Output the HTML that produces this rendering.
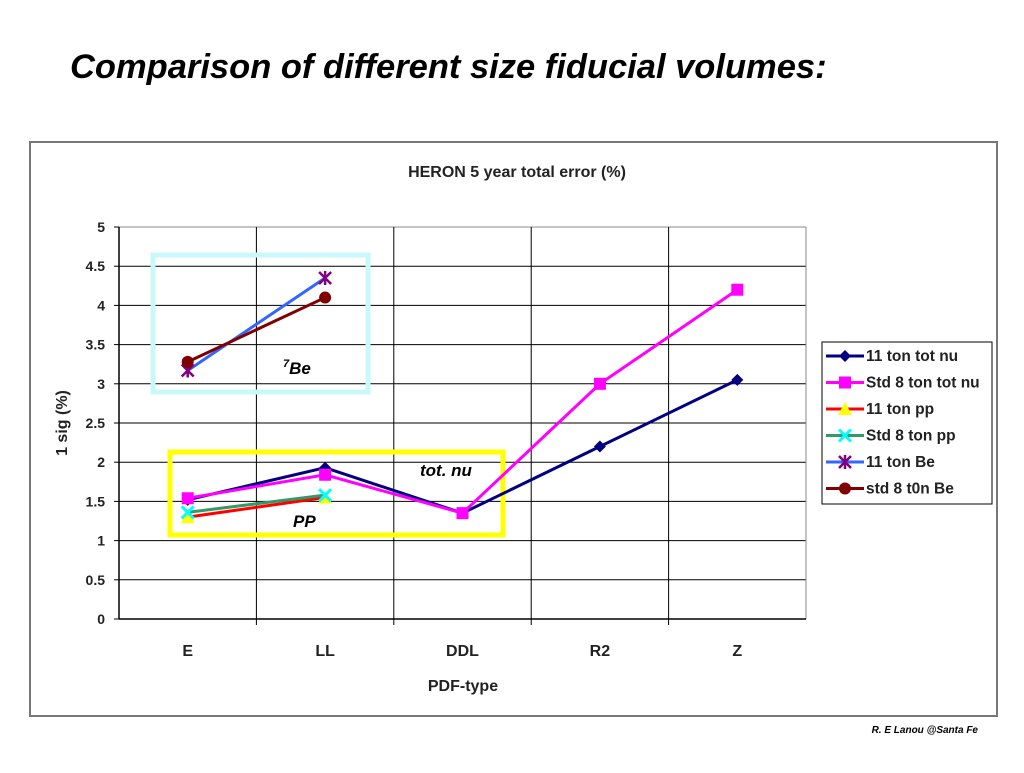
<!DOCTYPE html>
<html><head><meta charset="utf-8"><style>
body{margin:0;background:#fff;width:1024px;height:768px;overflow:hidden;font-family:"Liberation Sans",Arial,sans-serif}
</style></head><body>
<svg width="1024" height="768" xmlns="http://www.w3.org/2000/svg">
<text x="70" y="78" font-size="34.5" font-weight="bold" font-style="italic" font-family="Liberation Sans">Comparison of different size fiducial volumes:</text>
<rect x="30" y="142" width="967" height="574" fill="#fff" stroke="#777" stroke-width="2"/>
<text x="517" y="177" text-anchor="middle" font-size="16" font-weight="bold" fill="#222">HERON 5 year  total error (%)</text>
<g id="grid"></g>
<g id="axes"></g>
<rect x="153" y="255" width="215" height="137" fill="none" stroke="#c8f8f8" stroke-width="5"/>
<rect x="170" y="452" width="333" height="83" fill="none" stroke="#ffff00" stroke-width="5"/>
<g id="series"></g>
<text x="283" y="374" font-size="17" font-weight="bold" font-style="italic"><tspan font-size="11" dy="-7">7</tspan><tspan dy="7">Be</tspan></text>
<text x="420" y="476" font-size="17" font-weight="bold" font-style="italic">tot. nu</text>
<text x="293" y="527" font-size="17" font-weight="bold" font-style="italic">PP</text>
<text x="67" y="423" font-size="16" font-weight="bold" fill="#222" text-anchor="middle" transform="rotate(-90 67 423)">1 sig (%)</text>
<text x="463" y="691" font-size="16" font-weight="bold" fill="#222" text-anchor="middle">PDF-type</text>
<g>
<rect x="822" y="342" width="170" height="162" fill="#fff" stroke="#000" stroke-width="1"/>
<g id="legend"></g>
</g>
<text x="978" y="733" font-size="10" font-weight="bold" font-style="italic" text-anchor="end">R. E Lanou @Santa Fe</text>
</svg>
<script>
const categories=["E","LL","DDL","R2","Z"];
const yTicks=[0,0.5,1,1.5,2,2.5,3,3.5,4,4.5,5];
const seriesNames=["11 ton tot nu","Std 8 ton tot nu","11 ton pp","Std 8 ton pp","11 ton Be","std 8 t0n Be"];
const tot11=[1.52,1.93,1.35,2.2,3.05];
const totStd=[1.54,1.84,1.35,3.0,4.2];
const pp11=[1.3,1.55];
const ppStd=[1.36,1.58];
const be11=[3.17,4.35];
const beStd=[3.28,4.1];
const NS="http://www.w3.org/2000/svg";
const L=119,R=806,T=227,B=619,yMax=5;
const step=(R-L)/categories.length;
const xS=i=>L+step*(i+0.5);
const yS=v=>B-(v/yMax)*(B-T);
function mk(tag,attrs,parent){const e=document.createElementNS(NS,tag);for(const k in attrs)e.setAttribute(k,attrs[k]);parent.appendChild(e);return e;}
const grid=document.getElementById('grid'),axes=document.getElementById('axes'),ser=document.getElementById('series'),leg=document.getElementById('legend');
yTicks.forEach(v=>{
 const l=mk('line',{x1:L,x2:R,y1:yS(v),y2:yS(v),stroke:v==yMax?'#888':'#000','stroke-width':1},grid);
 
 
 mk('line',{x1:L-5,x2:L,y1:yS(v),y2:yS(v),stroke:'#000'},axes);
 const t=mk('text',{x:L-14,y:yS(v)+5,'text-anchor':'end','font-size':14,'font-weight':'bold',fill:'#222'},axes);t.textContent=v;
 
 
});
for(let i=1;i<categories.length;i++){
 const l=mk('line',{x1:L+step*i,x2:L+step*i,y1:T,y2:B+6,stroke:'#000'},grid);
 
 
}
mk('line',{x1:R,x2:R,y1:T,y2:B,stroke:'#888'},axes);
mk('line',{x1:L,x2:L,y1:T,y2:B,stroke:'#000','stroke-width':1.5},axes);
mk('line',{x1:L,x2:R,y1:B,y2:B,stroke:'#000','stroke-width':1.5},axes);
categories.forEach((c,i)=>{
 const t=mk('text',{x:xS(i),y:656,'text-anchor':'middle','font-size':16,'font-weight':'bold',fill:'#222'},axes);t.textContent=c;
 
 
});
function marker(type,x,y,color,g){
 if(type=='diamond')mk('polygon',{points:`${x},${y-6} ${x+6},${y} ${x},${y+6} ${x-6},${y}`,fill:color},g);
 else if(type=='square')mk('rect',{x:x-6,y:y-6,width:12,height:12,fill:color},g);
 else if(type=='triangle')mk('polygon',{points:`${x},${y-7} ${x+7},${y+6} ${x-7},${y+6}`,fill:color},g);
 else if(type=='x'){mk('path',{d:`M${x-6},${y-6}L${x+6},${y+6}M${x+6},${y-6}L${x-6},${y+6}`,stroke:color,'stroke-width':3},g);}
 else if(type=='star'){mk('path',{d:`M${x-6},${y-6}L${x+6},${y+6}M${x+6},${y-6}L${x-6},${y+6}M${x},${y-7}L${x},${y+7}`,stroke:color,'stroke-width':2.5},g);}
 else if(type=='circle')mk('circle',{cx:x,cy:y,r:6,fill:color},g);
}
const defs=[
 {d:tot11,line:'#000080',m:'diamond',mc:'#000080'},
 {d:totStd,line:'#ff00ff',m:'square',mc:'#ff00ff'},
 {d:pp11,line:'#ff0000',m:'triangle',mc:'#ffff00'},
 {d:ppStd,line:'#339966',m:'x',mc:'#00ffff'},
 {d:be11,line:'#3366ff',m:'star',mc:'#800080'},
 {d:beStd,line:'#800000',m:'circle',mc:'#800000'}
];
const slugs=['series-11ton-totnu','series-std8-totnu','series-11ton-pp','series-std8-pp','series-11ton-be','series-std8-be'];
defs.forEach((s,k)=>{
 const g=mk('g',{},ser);
 
 
 mk('polyline',{points:s.d.map((v,i)=>xS(i)+','+yS(v)).join(' '),fill:'none',stroke:s.line,'stroke-width':3},g);
 s.d.forEach((v,i)=>marker(s.m,xS(i),yS(v),s.mc,g));
 const ly=356+k*26.5;
 const lg=mk('g',{},leg);
 
 
 mk('line',{x1:826,x2:864,y1:ly,y2:ly,stroke:s.line,'stroke-width':3},lg);
 marker(s.m,845,ly,s.mc,lg);
 const t=mk('text',{x:866,y:ly+5,'font-size':15.5,'font-weight':'bold',fill:'#222'},lg);t.textContent=seriesNames[k];
});
</script>
</body></html>
